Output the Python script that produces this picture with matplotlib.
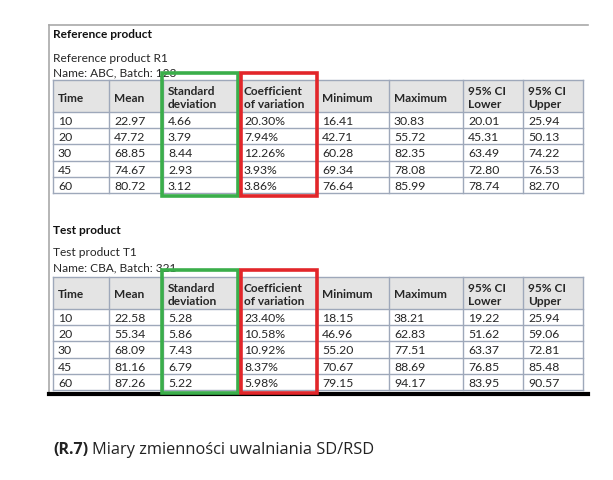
import matplotlib.pyplot as plt
from matplotlib.patches import Rectangle

plt.rcParams['font.family'] = ['Lato', 'DejaVu Sans']

headers = ["Time", "Mean", "Standard\ndeviation", "Coefficient\nof variation",
           "Minimum", "Maximum", "95% CI\nLower", "95% CI\nUpper"]
times = ["10", "20", "30", "45", "60"]

ref_mean = ["22.97", "47.72", "68.85", "74.67", "80.72"]
ref_sd = ["4.66", "3.79", "8.44", "2.93", "3.12"]
ref_cv = ["20.30%", "7.94%", "12.26%", "3.93%", "3.86%"]
ref_min = ["16.41", "42.71", "60.28", "69.34", "76.64"]
ref_max = ["30.83", "55.72", "82.35", "78.08", "85.99"]
ref_lo = ["20.01", "45.31", "63.49", "72.80", "78.74"]
ref_hi = ["25.94", "50.13", "74.22", "76.53", "82.70"]

test_mean = ["22.58", "55.34", "68.09", "81.16", "87.26"]
test_sd = ["5.28", "5.86", "7.43", "6.79", "5.22"]
test_cv = ["23.40%", "10.58%", "10.92%", "8.37%", "5.98%"]
test_min = ["18.15", "46.96", "55.20", "70.67", "79.15"]
test_max = ["38.21", "62.83", "77.51", "88.69", "94.17"]
test_lo = ["19.22", "51.62", "63.37", "76.85", "83.95"]
test_hi = ["25.94", "59.06", "72.81", "85.48", "90.57"]

col_x = [53, 109, 163, 239, 317, 389, 463, 523, 583]
grid_col = "#9ea8ba"
head_bg = "#e4e4e4"
green = "#3aae4a"
red = "#e2262a"
txt = "#262626"

fig = plt.figure(figsize=(6.13, 4.81), dpi=100)
ax = fig.add_axes([0, 0, 1, 1])
ax.set_xlim(0, 613)
ax.set_ylim(481, 0)
ax.axis("off")


def draw_table(top, cols):
    head_h = 32
    row_h = 16.2
    bottom = top + head_h + row_h * len(times)
    ax.add_patch(Rectangle((col_x[0], top), col_x[-1] - col_x[0], head_h,
                           facecolor=head_bg, edgecolor="none", zorder=1))
    for i, h in enumerate(headers):
        ax.text(col_x[i] + 5, top + head_h / 2 + 1, h, fontsize=8.6,
                fontweight="bold", va="center", ha="left", color=txt,
                linespacing=1.25, zorder=3)
    for r in range(len(times)):
        y = top + head_h + row_h * (r + 0.5)
        for i, c in enumerate(cols):
            ax.text(col_x[i] + 5, y + 0.5, c[r], fontsize=8.8, va="center",
                    ha="left", color=txt, zorder=3)
    # grid
    ys = [top, top + head_h] + [top + head_h + row_h * (r + 1) for r in range(len(times))]
    for y in ys:
        ax.plot([col_x[0], col_x[-1]], [y, y], color=grid_col, lw=1, zorder=2)
    for x in col_x:
        ax.plot([x, x], [top, bottom], color=grid_col, lw=1, zorder=2)
    # highlight boxes
    ax.add_patch(Rectangle((161.5, top - 7), 76, bottom - top + 10, fill=False,
                           edgecolor=green, lw=2.6, zorder=4))
    ax.add_patch(Rectangle((241, top - 7), 76, bottom - top + 10, fill=False,
                           edgecolor=red, lw=2.6, zorder=4))


# outer frame
ax.plot([49, 588], [26, 26], color="#a9a9a9", lw=1.2)
ax.plot([49, 49], [26, 394], color="#a9a9a9", lw=1.2)
ax.plot([49, 588], [395, 395], color="black", lw=3)

ax.text(53, 35, "Reference product", fontsize=8.6, fontweight="bold", va="center", color="#111111")
ax.text(53, 58, "Reference product R1", fontsize=8.6, va="center", color=txt)
ax.text(53, 72.5, "Name: ABC, Batch: 123", fontsize=8.6, va="center", color=txt)
draw_table(81, [times, ref_mean, ref_sd, ref_cv, ref_min, ref_max, ref_lo, ref_hi])

ax.text(53, 231, "Test product", fontsize=8.6, fontweight="bold", va="center", color="#111111")
ax.text(53, 253, "Test product T1", fontsize=8.6, va="center", color=txt)
ax.text(53, 268, "Name: CBA, Batch: 321", fontsize=8.6, va="center", color=txt)
draw_table(278, [times, test_mean, test_sd, test_cv, test_min, test_max, test_lo, test_hi])

ax.text(53, 450, "(R.7)", fontsize=11.5, fontweight="bold", va="center", color="#222222",
        family=["Open Sans", "DejaVu Sans"])
ax.text(92, 450, "Miary zmienności uwalniania SD/RSD", fontsize=11.8, va="center",
        color="#222222", family=["Open Sans", "DejaVu Sans"])

fig.savefig("out.png", dpi=100)
